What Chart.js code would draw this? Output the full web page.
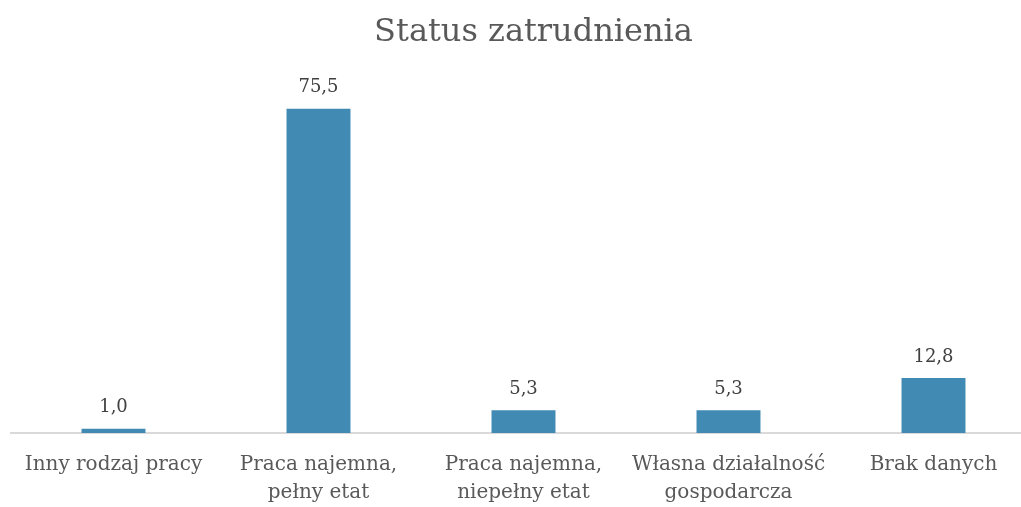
<!DOCTYPE html>
<html>
<head>
<meta charset="utf-8">
<script src="https://cdn.jsdelivr.net/npm/chart.js@4"></script>
<style>
  body { margin: 0; overflow: hidden; background: #fff; }
  #box { width: 1056px; height: 525px; }
</style>
</head>
<body>
<div id="box"><canvas id="grafico"></canvas></div>
<script>
var kategorie = [
  'Inny rodzaj pracy',
  ['Praca najemna,', 'pełny etat'],
  ['Praca najemna,', 'niepełny etat'],
  ['Własna działalność', 'gospodarcza'],
  'Brak danych'
];
var wartosci = [1.0, 75.5, 5.3, 5.3, 12.8];

// etykiety nad słupkami (bez pluginu datalabels)
var etykiety = {
  id: 'etykiety',
  afterDatasetsDraw: function(chart) {
    var ctx = chart.ctx;
    var meta = chart.getDatasetMeta(0);
    ctx.save();
    ctx.font = '18px "DejaVu Serif"';
    ctx.fillStyle = '#404040';
    ctx.textAlign = 'center';
    ctx.textBaseline = 'middle';
    meta.data.forEach(function(bar, i) {
      ctx.fillText(wartosci[i].toFixed(1).replace('.', ','), bar.x, bar.y - 21);
    });
    ctx.restore();
  }
};

var ctx = document.getElementById('grafico').getContext('2d');
var chart = new Chart(ctx, {
  type: 'bar',
  data: {
    labels: kategorie,
    datasets: [{
      label: 'Status zatrudnienia',
      data: wartosci,
      backgroundColor: '#418ab3',
      borderWidth: 0,
      categoryPercentage: 1,
      barPercentage: 0.312
    }]
  },
  options: {
    responsive: true,
    maintainAspectRatio: false,
    animation: false,
    layout: { padding: { left: 11, right: 0, top: 0, bottom: 0 } },
    plugins: {
      legend: { display: false },
      tooltip: { enabled: false },
      title: {
        display: true,
        text: 'Status zatrudnienia',
        color: '#595959',
        font: { family: 'DejaVu Serif', size: 32, weight: 'normal', lineHeight: 1.2 },
        padding: { top: 13, bottom: 38 }
      }
    },
    scales: {
      x: {
        grid: { display: false, drawTicks: false },
        border: { display: true, color: '#d9d9d9', width: 2 },
        ticks: {
          color: '#595959',
          font: { family: 'DejaVu Serif', size: 20, lineHeight: 1.4 },
          padding: 18,
          maxRotation: 0,
          autoSkip: false
        }
      },
      y: {
        position: 'right',
        min: 0,
        max: 80,
        grid: { display: false },
        border: { display: false },
        ticks: { display: false },
        afterFit: function(scale) { scale.width = 20; }
      }
    }
  },
  plugins: [etykiety]
});
</script>
</body>
</html>
